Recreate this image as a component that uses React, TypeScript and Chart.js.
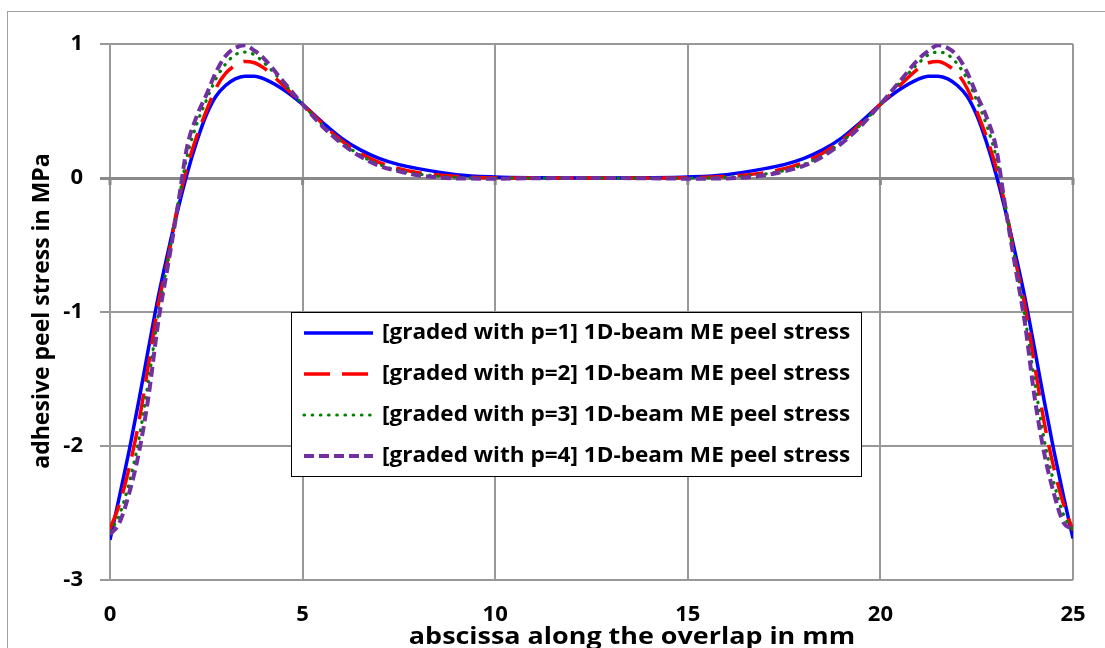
import React, { useEffect, useRef } from "react";
import { Chart, registerables } from "chart.js";

Chart.register(...registerables);

// ---------- data ----------
const xPositions = [
  0, 0.25, 0.5, 0.75, 1, 1.25, 1.5, 1.75, 2, 2.25, 2.5, 2.75, 3, 3.25, 3.5, 3.75, 4,
  4.5, 5, 5.5, 6, 6.5, 7, 7.5, 8, 9, 10, 11, 12.5,
  14, 15, 16, 17, 17.5, 18, 18.5, 19, 19.5, 20, 20.5, 21,
  21.25, 21.5, 21.75, 22, 22.25, 22.5, 22.75, 23, 23.25, 23.5, 23.75, 24, 24.25, 24.5, 24.75, 25,
];

const peelP1 = [
  -2.70, -2.37, -2.03, -1.66, -1.27, -0.89, -0.56, -0.25, 0.03, 0.27, 0.47, 0.61, 0.69, 0.74, 0.76, 0.76, 0.74,
  0.66, 0.55, 0.42, 0.30, 0.21, 0.145, 0.10, 0.07, 0.025, 0.008, 0.002, 0,
  0.002, 0.008, 0.025, 0.07, 0.10, 0.145, 0.21, 0.30, 0.42, 0.55, 0.66, 0.74,
  0.76, 0.76, 0.74, 0.69, 0.61, 0.47, 0.27, 0.03, -0.25, -0.56, -0.89, -1.27, -1.66, -2.03, -2.37, -2.69,
];

const peelP2 = [
  -2.62, -2.43, -2.16, -1.82, -1.39, -0.95, -0.61, -0.22, 0.08, 0.31, 0.50, 0.67, 0.78, 0.84, 0.87, 0.86, 0.82,
  0.69, 0.55, 0.41, 0.28, 0.185, 0.115, 0.07, 0.04, 0.012, 0.002, 0, 0,
  0, 0.002, 0.012, 0.04, 0.07, 0.115, 0.185, 0.28, 0.41, 0.55, 0.69, 0.82,
  0.86, 0.87, 0.84, 0.78, 0.67, 0.50, 0.31, 0.08, -0.22, -0.61, -0.95, -1.39, -1.82, -2.16, -2.43, -2.63,
];

const peelP3 = [
  -2.64, -2.51, -2.27, -1.95, -1.51, -1.03, -0.62, -0.22, 0.16, 0.40, 0.58, 0.74, 0.85, 0.92, 0.94, 0.92, 0.86,
  0.71, 0.55, 0.40, 0.27, 0.17, 0.10, 0.055, 0.03, 0.005, 0, 0, 0,
  0, 0, 0.005, 0.03, 0.055, 0.10, 0.17, 0.27, 0.40, 0.55, 0.71, 0.86,
  0.92, 0.94, 0.92, 0.85, 0.74, 0.58, 0.40, 0.16, -0.22, -0.62, -1.03, -1.51, -1.95, -2.27, -2.51, -2.63,
];

const peelP4 = [
  -2.66, -2.57, -2.35, -2.05, -1.63, -1.08, -0.66, -0.23, 0.23, 0.46, 0.62, 0.79, 0.91, 0.97, 0.99, 0.95, 0.89,
  0.72, 0.55, 0.39, 0.26, 0.16, 0.09, 0.05, 0.02, -0.003, -0.005, -0.002, 0,
  -0.002, -0.005, -0.003, 0.02, 0.05, 0.09, 0.16, 0.26, 0.39, 0.55, 0.72, 0.89,
  0.95, 0.99, 0.97, 0.91, 0.79, 0.62, 0.46, 0.23, -0.23, -0.66, -1.08, -1.63, -2.05, -2.35, -2.57, -2.62,
];

const seriesLabels = [
  "[graded with p=1] 1D-beam ME peel stress",
  "[graded with p=2] 1D-beam ME peel stress",
  "[graded with p=3] 1D-beam ME peel stress",
  "[graded with p=4] 1D-beam ME peel stress",
];

const xTickValues = [0, 5, 10, 15, 20, 25];
const yTickValues = [-3, -2, -1, 0, 1];
const xAxisTitle = "abscissa along the overlap in mm";
const yAxisTitle = "adhesive peel stress in MPa";

// ---------- styles ----------
const FONT = "'Open Sans', sans-serif";
const GRID = "#989898";
const ZERO = "#8a8a8a";

const seriesStyles = [
  { color: "#0000ff", dash: [] as number[], width: 3.5, cap: "butt" as CanvasLineCap },
  { color: "#ff0000", dash: [26, 12], width: 3.5, cap: "butt" as CanvasLineCap },
  { color: "#008000", dash: [0.5, 7.7], width: 3.2, cap: "round" as CanvasLineCap },
  { color: "#7030a0", dash: [10, 5], width: 4, cap: "butt" as CanvasLineCap },
];

const outerBorderPlugin = {
  id: "outerBorder",
  beforeDraw(chart: any) {
    const ctx = chart.ctx;
    ctx.save();
    ctx.fillStyle = "#ffffff";
    ctx.fillRect(0, 0, chart.width, chart.height);
    ctx.strokeStyle = "#a0a0a0";
    ctx.lineWidth = 1;
    ctx.strokeRect(7.5, 11.5, chart.width + 20, chart.height + 20);
    ctx.restore();
  },
};

const zeroTicksPlugin = {
  id: "zeroTicks",
  beforeDatasetsDraw(chart: any) {
    const { ctx, scales } = chart;
    const y0 = scales.y.getPixelForValue(0);
    ctx.save();
    ctx.strokeStyle = ZERO;
    ctx.lineWidth = 3;
    ctx.beginPath();
    xTickValues.forEach((v) => {
      const px = scales.x.getPixelForValue(v);
      ctx.moveTo(px, y0);
      ctx.lineTo(px, y0 + 7);
    });
    ctx.stroke();
    ctx.restore();
  },
};

const titlesAndLegendPlugin = {
  id: "titlesAndLegend",
  afterDraw(chart: any) {
    const ctx = chart.ctx;
    ctx.save();
    ctx.fillStyle = "#000";
    // x title
    ctx.font = `bold 23px ${FONT}`;
    ctx.textAlign = "center";
    ctx.textBaseline = "middle";
    ctx.save();
    ctx.translate(632, 637);
    ctx.scale(1.17, 1);
    ctx.fillText(xAxisTitle, 0, 0);
    ctx.restore();
    // y title
    ctx.save();
    ctx.translate(42, 311);
    ctx.rotate(-Math.PI / 2);
    ctx.fillText(yAxisTitle, 0, 0);
    ctx.restore();

    // legend
    const bx = 291.5, by = 312.5, bw = 570, bh = 164;
    ctx.fillStyle = "#ffffff";
    ctx.fillRect(bx, by, bw, bh);
    ctx.strokeStyle = "#000";
    ctx.lineWidth = 1;
    ctx.strokeRect(bx, by, bw, bh);
    const rows = [333, 374, 415, 456];
    seriesLabels.forEach((label, i) => {
      const st = seriesStyles[i];
      const y = rows[i];
      ctx.save();
      ctx.strokeStyle = st.color;
      ctx.lineWidth = st.width;
      ctx.lineCap = st.cap;
      ctx.setLineDash(st.dash);
      ctx.beginPath();
      ctx.moveTo(304, y);
      ctx.lineTo(373, y);
      ctx.stroke();
      ctx.restore();
      ctx.save();
      ctx.fillStyle = "#000";
      ctx.font = `bold 22px ${FONT}`;
      ctx.textAlign = "left";
      ctx.textBaseline = "middle";
      ctx.translate(382, y);
      ctx.scale(1.025, 1);
      ctx.fillText(label, 0, 0);
      ctx.restore();
    });
    ctx.restore();
  },
};

export default function App() {
  const ref = useRef<HTMLCanvasElement | null>(null);

  useEffect(() => {
    if (!ref.current) return;
    const series = [peelP1, peelP2, peelP3, peelP4];
    const datasets = series.map((vals, i) => ({
      label: seriesLabels[i],
      data: xPositions.map((x, j) => ({ x, y: vals[j] })),
      borderColor: seriesStyles[i].color,
      backgroundColor: seriesStyles[i].color,
      borderWidth: seriesStyles[i].width,
      borderDash: seriesStyles[i].dash,
      borderCapStyle: seriesStyles[i].cap,
      pointRadius: 0,
      fill: false,
      cubicInterpolationMode: "monotone" as const,
      order: 3 - i,
    }));

    const chart = new Chart(ref.current, {
      type: "line",
      data: { datasets },
      plugins: [outerBorderPlugin, zeroTicksPlugin, titlesAndLegendPlugin],
      options: {
        animation: false,
        responsive: false,
        devicePixelRatio: 1,
        layout: { padding: { left: 0, top: 44, right: 32, bottom: 0 } },
        plugins: { legend: { display: false }, tooltip: { enabled: false } },
        scales: {
          x: {
            type: "linear",
            min: 0,
            max: 25,
            afterBuildTicks: (s: any) => {
              s.ticks = xTickValues.map((v) => ({ value: v }));
            },
            afterFit: (s: any) => {
              s.height = 68;
              s.paddingLeft = 0;
              s.paddingRight = 0;
            },
            grid: { color: GRID, lineWidth: 2, drawTicks: false },
            border: { display: false },
            ticks: {
              color: "#000",
              padding: 22,
              maxRotation: 0,
              font: { family: FONT, size: 22, weight: "bold" },
            },
          },
          y: {
            type: "linear",
            min: -3,
            max: 1,
            afterBuildTicks: (s: any) => {
              s.ticks = yTickValues.map((v) => ({ value: v }));
            },
            afterFit: (s: any) => {
              s.width = 110;
              s.paddingTop = 0;
              s.paddingBottom = 0;
            },
            grid: {
              color: (c: any) => (c.tick && c.tick.value === 0 ? ZERO : GRID),
              lineWidth: (c: any) => (c.tick && c.tick.value === 0 ? 3 : 2),
              tickLength: 10,
            },
            border: { display: false },
            ticks: {
              color: "#000",
              padding: 17,
              font: { family: FONT, size: 22, weight: "bold" },
            },
          },
        },
      },
    });
    return () => chart.destroy();
  }, []);

  return (
    <div style={{ position: "fixed", left: 0, top: 0, width: 1105, height: 648, background: "#fff" }}>
      <canvas ref={ref} width={1105} height={648} style={{ display: "block" }} />
    </div>
  );
}
